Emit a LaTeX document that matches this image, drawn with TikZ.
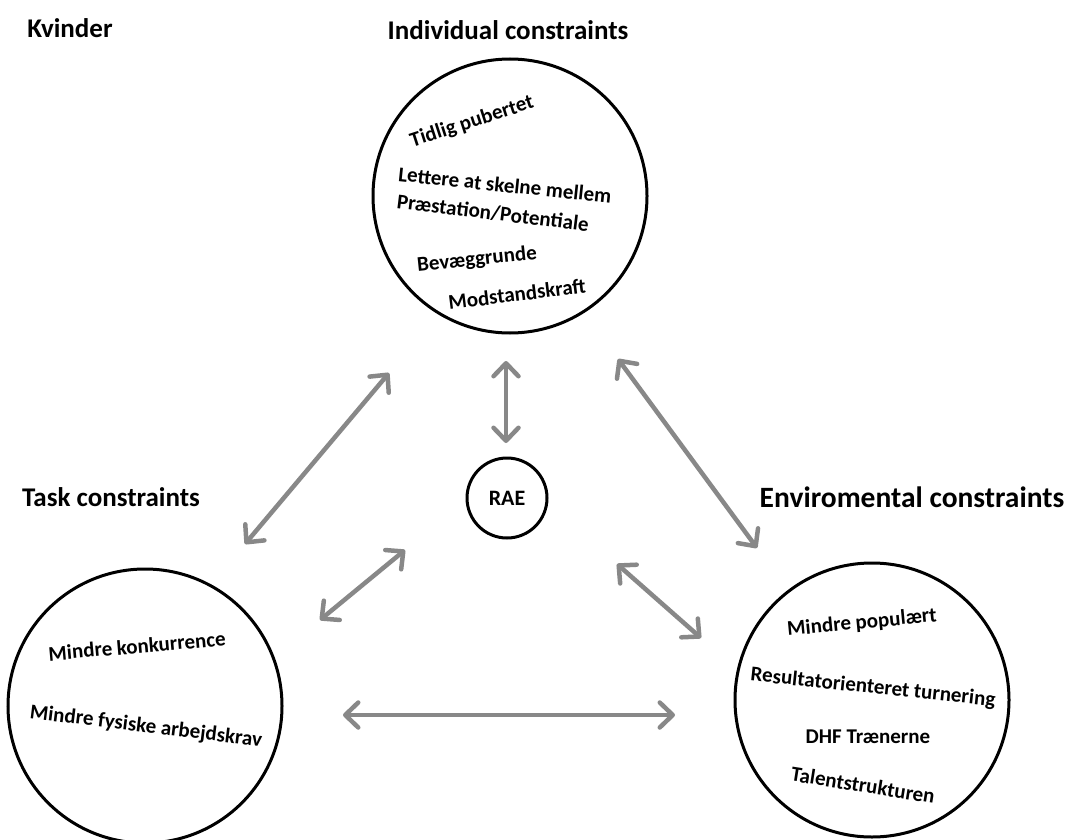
\documentclass[tikz,border=0pt]{standalone}
\usepackage{fontspec}
\setmainfont{Carlito}
\usetikzlibrary{arrows.meta}
\definecolor{arrowgray}{HTML}{888888}
\tikzset{
  title/.style={font=\fontsize{27}{30}\selectfont\bfseries, inner sep=0pt},
  item/.style={font=\fontsize{21}{24}\selectfont\bfseries, inner sep=0pt},
  bigcircle/.style={circle, draw=black, line width=3pt, minimum size=274pt, inner sep=0pt},
  raecircle/.style={circle, draw=black, line width=3pt, minimum size=80pt, inner sep=0pt, font=\fontsize{22}{24}\selectfont\bfseries},
  link/.style={draw=arrowgray, line width=4.5pt, {Straight Barb[length=13pt, width=25pt, round]}-{Straight Barb[length=13pt, width=25pt, round]}}
}
\begin{document}
\begin{tikzpicture}[x=1pt, y=-1pt]
\useasboundingbox (0,0) rectangle (1076,840);
% titles
\node[title] (kv) at (70,28) {Kvinder};
\node[title] (ti) at (508,30) {Individual constraints};
\node[title] (tt) at (111,497) {Task constraints};
\node[title, font=\fontsize{29.5}{32}\selectfont\bfseries] (te) at (912,497) {Enviromental constraints};
% circles
\node[bigcircle] (ind) at (510,196) {};
\node[bigcircle] (task) at (145,706) {};
\node[bigcircle] (env) at (872,700) {};
\node[raecircle] (rae) at (507,498) {RAE};
% individual items
\node[item, rotate=18] (i1) at (472,122) {Tidlig pubertet};
\node[item, rotate=-6] (i2) at (505,185) {Lettere at skelne mellem};
\node[item, rotate=-7] (i3) at (493,213) {Præstation/Potentiale};
\node[item, rotate=6] (i4) at (477,260) {Bevæggrunde};
\node[item, rotate=7] (i5) at (517,294) {Modstandskraft};
% task items
\node[item, rotate=5] (t1) at (137,646) {Mindre konkurrence};
\node[item, rotate=-7] (t2) at (146,727) {Mindre fysiske arbejdskrav};
% environmental items
\node[item, rotate=5.5] (e1) at (862,623) {Mindre populært};
\node[item, rotate=-6] (e2) at (873,688) {Resultatorienteret turnering};
\node[item] (e3) at (868,737) {DHF Trænerne};
\node[item, rotate=-9] (e4) at (863,785) {Talentstrukturen};
% arrow end points
\coordinate (v1) at (506,361);
\coordinate (v2) at (506,443);
\coordinate (ul1) at (389,373);
\coordinate (ul2) at (245,544);
\coordinate (ur1) at (618,359);
\coordinate (ur2) at (757,548);
\coordinate (ll1) at (405,550);
\coordinate (ll2) at (320,620);
\coordinate (lr1) at (617,564);
\coordinate (lr2) at (701,638);
\coordinate (h1) at (343,715);
\coordinate (h2) at (675,715);
\draw[link] (v1) -- (v2);
\draw[link] (ul1) -- (ul2);
\draw[link] (ur1) -- (ur2);
\draw[link] (ll1) -- (ll2);
\draw[link] (lr1) -- (lr2);
\draw[link] (h1) -- (h2);
\end{tikzpicture}
\end{document}
